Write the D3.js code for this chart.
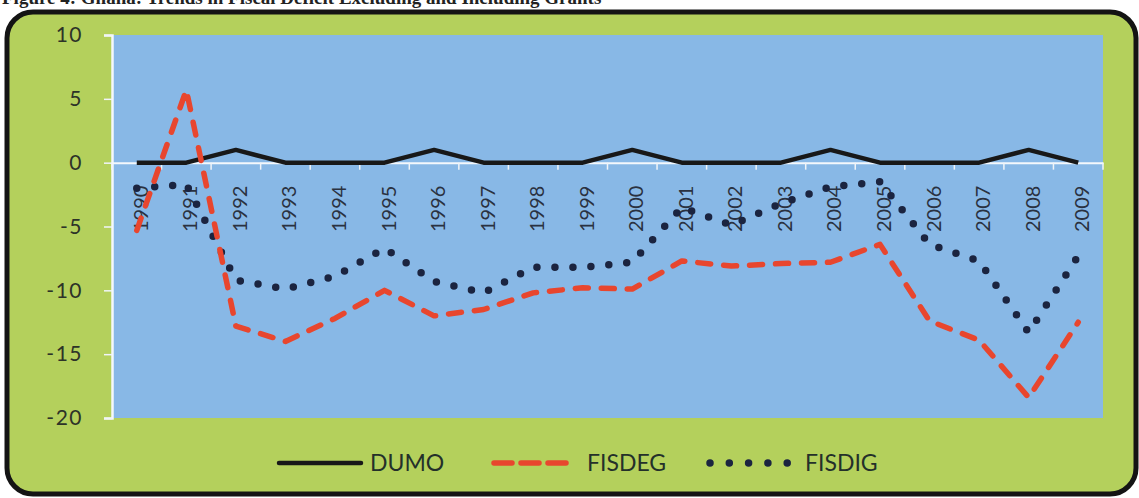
<!DOCTYPE html>
<html>
<head>
<meta charset="utf-8">
<script src="https://cdn.jsdelivr.net/npm/d3@7/dist/d3.min.js"></script>
<style>
  html, body { margin: 0; padding: 0; background: #ffffff; }
  svg { display: block; }
</style>
</head>
<body>
<svg id="chart" width="1139" height="498"></svg>
<script>
const years = ["1990","1991","1992","1993","1994","1995","1996","1997","1998","1999",
               "2000","2001","2002","2003","2004","2005","2006","2007","2008","2009"];
const dumo   = [0, 0, 1, 0, 0, 0, 1, 0, 0, 0, 1, 0, 0, 0, 1, 0, 0, 0, 1, 0];
const fisdeg = [-5.3, 5.7, -12.8, -14.0, -12.2, -10.0, -12.0, -11.5, -10.2, -9.8,
                -9.9, -7.7, -8.1, -7.9, -7.8, -6.4, -12.4, -13.9, -18.4, -12.5];
const fisdig = [-2.0, -1.7, -9.2, -9.9, -8.9, -6.7, -9.3, -10.2, -8.2, -8.2,
                -7.8, -3.5, -4.9, -3.2, -1.9, -1.5, -6.4, -7.7, -13.3, -7.3];
const yTicks = [10, 5, 0, -5, -10, -15, -20];
const legendNames = ["DUMO", "FISDEG", "FISDIG"];
const titleText = "Figure 4: Ghana: Trends in Fiscal Deficit Excluding and Including Grants";

const svg = d3.select("#chart");
const font = "Lato, 'Open Sans', sans-serif";

// title, clipped at the top edge as in the source scan
svg.append("text")
  .attr("x", 2).attr("y", 4)
  .attr("font-family", "'Liberation Serif', 'Times New Roman', serif")
  .attr("font-weight", "bold")
  .attr("font-size", 19)
  .attr("fill", "#222")
  .text(titleText);

// outer frame
svg.append("rect")
  .attr("x", 7).attr("y", 12).attr("width", 1129).attr("height", 482)
  .attr("rx", 26).attr("ry", 26)
  .attr("fill", "#b4d05c").attr("stroke", "#141414").attr("stroke-width", 5);

const x = d3.scaleBand().domain(years).range([112, 1103]).padding(0);
const y = d3.scaleLinear().domain([-20, 10]).range([418, 35]);
const cx = d => x(d) + x.bandwidth() / 2;

// plot area
svg.append("rect")
  .attr("x", 112).attr("y", y(10))
  .attr("width", 1103 - 112).attr("height", y(-20) - y(10))
  .attr("fill", "#88b8e6");

// y axis
const yAxis = d3.axisLeft(y).tickValues(yTicks).tickSize(8).tickPadding(21)
  .tickFormat(d => d < 0 ? "-" + Math.abs(d) : d);
const gy = svg.append("g").attr("transform", "translate(112,0)").call(yAxis);
gy.select(".domain").attr("stroke", "#f4f8fc").attr("stroke-width", 2.5);
gy.selectAll(".tick line").attr("stroke", "#f0f4f8").attr("stroke-width", 1.5);
gy.selectAll(".tick text")
  .attr("font-family", font).attr("font-size", 21).attr("fill", "#2d3328")
  .attr("letter-spacing", 1.5);

// x axis along zero
const xAxis = d3.axisBottom(x).tickSize(0).tickFormat("");
const gx = svg.append("g").attr("transform", `translate(0,${y(0)})`).call(xAxis);
gx.select(".domain").attr("stroke", "#f4f8fc").attr("stroke-width", 2);
gx.selectAll(".tick").remove();
const bounds = years.map(d => x(d)).concat([x(years[years.length - 1]) + x.bandwidth()]);
svg.append("g").selectAll("line").data(bounds).join("line")
  .attr("x1", d => d).attr("x2", d => d)
  .attr("y1", y(0)).attr("y2", y(0) + 7)
  .attr("stroke", "#f0f4f8").attr("stroke-width", 1.5);

// year labels rotated
svg.append("g").selectAll("text").data(years).join("text")
  .attr("transform", d => `translate(${cx(d) + 11},${y(0) + 23}) rotate(-90)`)
  .attr("text-anchor", "end")
  .attr("font-family", font).attr("font-size", 20).attr("fill", "#2a3140")
  .text(d => d);

// lines
const line = vals => d3.line().x((v, i) => cx(years[i])).y(v => y(v))(vals);

svg.append("path").attr("d", line(dumo))
  .attr("fill", "none").attr("stroke", "#181818").attr("stroke-width", 4.5)
  .attr("stroke-linejoin", "round");

svg.append("path").attr("d", line(fisdig))
  .attr("fill", "none").attr("stroke", "#1b2440").attr("stroke-width", 7.5)
  .attr("stroke-dasharray", "0 18").attr("stroke-linecap", "round");

svg.append("path").attr("d", line(fisdeg))
  .attr("fill", "none").attr("stroke", "#e8462e").attr("stroke-width", 5.5)
  .attr("stroke-dasharray", "13 13").attr("stroke-linecap", "round")
  .attr("stroke-linejoin", "round");

// legend
const ly = 463;
const leg = svg.append("g");
leg.append("line").attr("x1", 279).attr("x2", 361).attr("y1", ly).attr("y2", ly)
  .attr("stroke", "#181818").attr("stroke-width", 4.5).attr("stroke-linecap", "round");
leg.append("line").attr("x1", 494).attr("x2", 567).attr("y1", ly).attr("y2", ly)
  .attr("stroke", "#e8462e").attr("stroke-width", 5.5)
  .attr("stroke-dasharray", "18 9").attr("stroke-linecap", "round");
leg.append("line").attr("x1", 710).attr("x2", 787.5).attr("y1", ly).attr("y2", ly)
  .attr("stroke", "#1b2440").attr("stroke-width", 7.5)
  .attr("stroke-dasharray", "0 19.3").attr("stroke-linecap", "round");
const lx = [370, 587, 805];
leg.selectAll("text").data(legendNames).join("text")
  .attr("x", (d, i) => lx[i]).attr("y", ly)
  .attr("dy", "0.36em")
  .attr("font-family", font).attr("font-size", 23).attr("fill", "#24302a")
  .text(d => d);
</script>
</body>
</html>
